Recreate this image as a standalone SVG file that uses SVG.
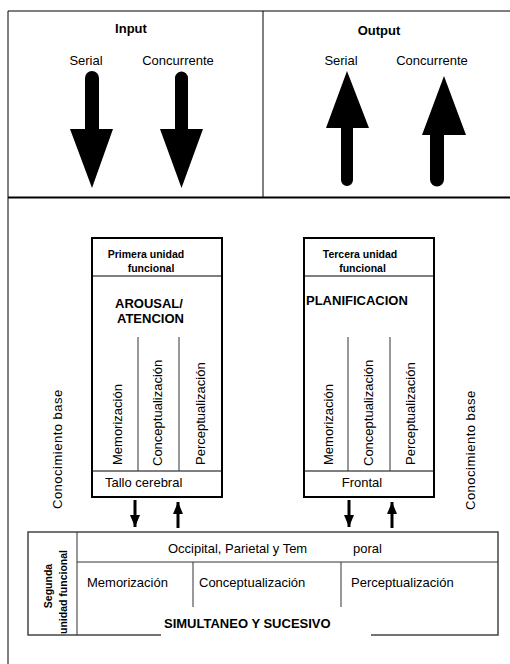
<svg xmlns="http://www.w3.org/2000/svg" width="510" height="664" viewBox="0 0 510 664">
<defs>
<style>
text{font-family:"Liberation Sans",Arial,sans-serif;font-size:13px;fill:#000}
.b{font-weight:bold}
.s{font-size:10.5px;font-weight:bold}
.m{text-anchor:middle}
.frame{fill:none;stroke:#000;stroke-width:1}
.box{fill:#fff;stroke:#000;stroke-width:2}
.thin{stroke:#000;stroke-width:1;fill:none}
.col{stroke:#333;stroke-width:1;fill:none}
.bbox{fill:#fff;stroke:#444;stroke-width:1.5}
.big{fill:#000;stroke:none}
.sm{stroke:#000;stroke-width:3;fill:none}
</style>
<marker id="ah" viewBox="0 0 12 10" refX="12" refY="5" markerWidth="12" markerHeight="10" markerUnits="userSpaceOnUse" orient="auto">
<path d="M0,0 L12,5 L0,10 Z" fill="#000"/>
</marker>
</defs>
<rect width="510" height="664" fill="#fff"/>
<g id="frame">
<path class="frame" d="M8,664 V11 H510"/>
<path class="frame" d="M263,11 V197"/>
<path d="M8,197.5 H510" stroke="#000" stroke-width="2"/>
</g>
<g id="input">
<text class="b m" x="131" y="33">Input</text>
<text class="m" x="86" y="65">Serial</text>
<text class="m" x="178" y="65">Concurrente</text>
<path class="big" d="M85,78 A7,7 0 0 1 99,78 V129 H113 L92,188 L70,129 H85 Z"/>
<path class="big" d="M175,78 A6.5,6.5 0 0 1 188,78 V129 H203 L181.5,188 L160,129 H175 Z"/>
</g>
<g id="output">
<text class="b m" x="379" y="35">Output</text>
<text class="m" x="341" y="65">Serial</text>
<text class="m" x="432" y="65">Concurrente</text>
<path class="big" d="M347,71 L369,128 H353 V180 A6,6 0 0 1 341,180 V128 H326 Z"/>
<path class="big" d="M444,76 L466,135 H444 V179.5 A7,7 0 0 1 430,179.5 V135 H422 Z"/>
</g>
<g id="primera">
<rect class="box" x="92" y="238" width="130" height="259"/>
<path class="thin" d="M92,276 H222 M92,471 H222"/>
<path class="col" d="M138,337 V471 M179,337 V471"/>
<text class="s m" x="146" y="258">Primera unidad</text>
<text class="s m" x="151" y="271.5">funcional</text>
<text class="b" x="115" y="308">AROUSAL/</text>
<text class="b" x="117" y="323">ATENCION</text>
<text transform="translate(122,465) rotate(-90)">Memorización</text>
<text transform="translate(162,466) rotate(-90)">Conceptualización</text>
<text transform="translate(205,465) rotate(-90)">Perceptualización</text>
<text x="105" y="487">Tallo cerebral</text>
</g>
<g id="tercera">
<rect class="box" x="304" y="238" width="130" height="259"/>
<path class="thin" d="M304,276 H434 M304,471 H434"/>
<path class="col" d="M348,337 V471 M390,337 V471"/>
<text class="s m" x="360" y="258">Tercera unidad</text>
<text class="s m" x="362.5" y="271.5">funcional</text>
<text class="b" x="306" y="305">PLANIFICACION</text>
<text transform="translate(333,465) rotate(-90)">Memorización</text>
<text transform="translate(373,466) rotate(-90)">Conceptualización</text>
<text transform="translate(415,465) rotate(-90)">Perceptualización</text>
<text class="m" x="362" y="487">Frontal</text>
</g>
<g id="conocimiento-izq">
<text transform="translate(62,509) rotate(-90)" letter-spacing="0.5">Conocimiento base</text>
</g>
<g id="conocimiento-der">
<text transform="translate(475,510) rotate(-90)" letter-spacing="0.5">Conocimiento base</text>
</g>
<g id="segunda">
<rect class="bbox" x="28" y="532" width="470" height="103"/>
<path class="col" d="M77,532 V635 M77,562 H498 M193,562 V607 M341,562 V607"/>
<rect x="161" y="615" width="210" height="22" fill="#fff"/>
<text class="s m" transform="translate(52,586) rotate(-90)">Segunda</text>
<text class="s m" transform="translate(66.5,592) rotate(-90)">unidad funcional</text>
<text x="168" y="553">Occipital, Parietal y Tem</text>
<text x="353" y="553">poral</text>
<text x="87" y="587">Memorización</text>
<text x="199" y="587">Conceptualización</text>
<text x="351" y="587">Perceptualización</text>
<text class="b" x="164" y="628">SIMULTANEO Y SUCESIVO</text>
</g>
<g id="connectors">
<line class="sm" x1="135" y1="500" x2="135" y2="527" marker-end="url(#ah)"/>
<line class="sm" x1="178" y1="528" x2="178" y2="502" marker-end="url(#ah)"/>
<line class="sm" x1="349" y1="500" x2="349" y2="527" marker-end="url(#ah)"/>
<line class="sm" x1="392" y1="528" x2="392" y2="502" marker-end="url(#ah)"/>
</g>
</svg>
